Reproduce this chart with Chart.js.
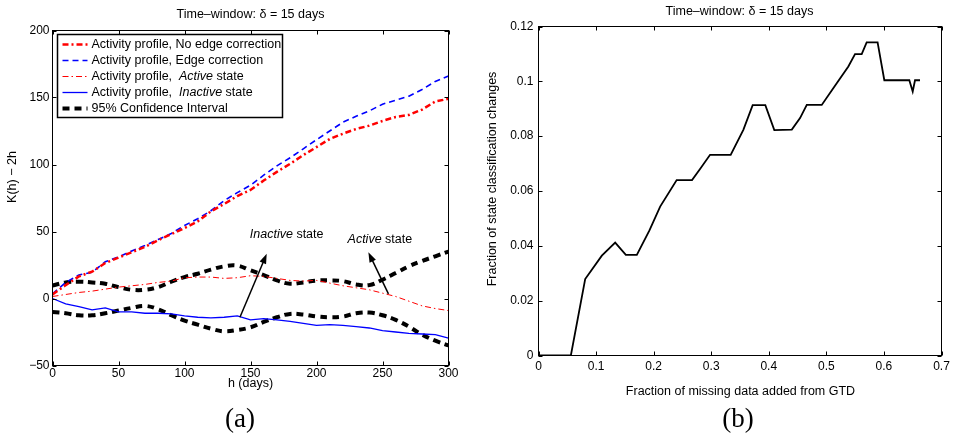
<!DOCTYPE html>
<html>
<head>
<meta charset="utf-8">
<script src="https://cdn.jsdelivr.net/npm/chart.js@4.4.0/dist/chart.umd.min.js"></script>
<style>
  html, body { margin: 0; padding: 0; background: #fff; }
  #wrap { position: relative; width: 956px; height: 440px; }
  canvas { position: absolute; top: 0; }
  #graficoA { left: 0; }
  #graficoB { left: 478px; }
</style>
</head>
<body>
<div id="wrap">
  <canvas id="graficoA" width="478" height="440"></canvas>
  <canvas id="graficoB" width="478" height="440"></canvas>
</div>
<script>
// (a) K(h) - 2h, a cada 10 dias
const dias = [0, 10, 20, 30, 40, 50, 60, 70, 80, 90, 100, 110, 120, 130, 140, 150,
    160, 170, 180, 190, 200, 210, 220, 230, 240, 250, 260, 270, 280, 290, 300];
const semCorrecao = [3, 10, 16.5, 20, 26.5, 30.5, 34.5, 38.5, 43.5, 48, 52.5, 57.5, 65, 70.5, 76.5, 81,
    88, 94.5, 100.5, 107, 113, 119, 123, 126.5, 129, 132.5, 135.5, 137, 141, 147, 149];
const comCorrecao = [3.5, 12, 17.5, 19.6, 27.5, 31, 35.5, 39.5, 44, 48.5, 54.5, 59.5, 65.5, 73, 79, 84.5,
    92, 99, 105, 111.7, 118.5, 125, 131.5, 136, 140, 145, 148, 151, 156, 162, 166];
const estadoAtivo = [1.5, 3, 4.5, 5.5, 7, 8.5, 9.5, 10.5, 12, 13, 15.5, 16, 16, 15, 15.5, 17,
    16.5, 15, 13.5, 13, 13.5, 11.5, 9.5, 8, 6.5, 4, 1.5, -2, -5.5, -7.5, -9];
const estadoInativo = [0, -4, -6, -8.5, -7, -10, -10, -11, -11, -11.5, -13, -14, -14.5, -14, -13, -16,
    -15, -16, -17, -18.5, -20, -19.5, -20, -21, -22, -24, -25, -26, -26.5, -27, -29.5];
const icSuperior = [9.7, 12, 12.5, 12, 11, 8.5, 6.5, 6.5, 8.5, 12.5, 16, 18.5, 21.5, 24, 24.5, 21,
    17.5, 13.5, 11, 12, 13.4, 13.5, 13, 10.5, 10, 14, 19, 24, 28, 31.5, 35];
const icInferior = [-10, -11, -12.5, -12.5, -11, -9, -7, -5.5, -8, -12.5, -16.5, -19.5, -22.5, -24.5, -23.5, -21.5,
    -17.5, -14, -11.5, -12, -13.4, -14, -13.5, -11, -10.5, -12.5, -16, -21, -27, -31.5, -35];
const ticksXA = [0, 50, 100, 150, 200, 250, 300];
const ticksYA = [-50, 0, 50, 100, 150, 200];

// (b) fração de mudanças de classificação
const fracaoAdicionada = [0, 0.0562, 0.0811, 0.110, 0.1332, 0.1517, 0.1708, 0.1927, 0.2113, 0.240, 0.2667,
    0.2806, 0.298, 0.3338, 0.3558, 0.372, 0.394, 0.4096, 0.44, 0.4543, 0.466, 0.492, 0.512, 0.5382,
    0.5498, 0.5614, 0.570, 0.589, 0.6007, 0.6441, 0.650, 0.654, 0.6627];
const fracaoMudancas = [0, 0, 0.0279, 0.0364, 0.0412, 0.0367, 0.0367, 0.0456, 0.0543, 0.064, 0.064,
    0.068, 0.0732, 0.0732, 0.0823, 0.0913, 0.0913, 0.0822, 0.0824, 0.0866, 0.0914, 0.0914, 0.0975, 0.1054,
    0.1099, 0.1099, 0.1142, 0.1142, 0.1004, 0.1004, 0.0963, 0.1004, 0.1004];
const ticksXB = [0, 0.1, 0.2, 0.3, 0.4, 0.5, 0.6, 0.7];
const ticksYB = [0, 0.02, 0.04, 0.06, 0.08, 0.1, 0.12];

// textos
const titulo = 'Time\u2013window: \u03b4 = 15 days';
const legendas = [
    [['Activity profile, No edge correction', false]],
    [['Activity profile, Edge correction', false]],
    [['Activity profile,  ', false], ['Active', true], [' state', false]],
    [['Activity profile,  ', false], ['Inactive', true], [' state', false]],
    [['95% Confidence Interval', false]]
];
const anotacoes = [
    { partes: [['Inactive', true], [' state', false]], texto: [177.4, 47.4], cauda: [142, -14], ponta: [162.3, 33.4] },
    { partes: [['Active', true], [' state', false]], texto: [248, 44.2], cauda: [254.5, 3.5], ponta: [239.3, 34.6] }
];

const familia = '"Liberation Sans", Arial, Helvetica, sans-serif';
Chart.defaults.font.family = familia;
Chart.defaults.color = '#000';

function fonte(italico, tamanho) {
    return (italico ? 'italic ' : '') + (tamanho || 12.5) + 'px ' + familia;
}

function pontos(xs, ys) {
    return xs.map((x, i) => ({ x: x, y: ys[i] }));
}

// escreve texto com partes em itálico
function textoMisto(ctx, partes, x, y, alinhar) {
    let largura = 0;
    partes.forEach(p => { ctx.font = fonte(p[1]); largura += ctx.measureText(p[0]).width; });
    let cx = alinhar === 'center' ? x - largura / 2 : x;
    ctx.textAlign = 'left';
    partes.forEach(p => {
        ctx.font = fonte(p[1]);
        ctx.fillText(p[0], cx, y);
        cx += ctx.measureText(p[0]).width;
    });
}

function seta(ctx, x0, y0, x1, y1) {
    const ang = Math.atan2(y1 - y0, x1 - x0);
    const c = Math.cos(ang), s = Math.sin(ang);
    const L = 10, W = 3.5;
    ctx.beginPath();
    ctx.moveTo(x0, y0);
    ctx.lineTo(x1 - L * c * 0.7, y1 - L * s * 0.7);
    ctx.stroke();
    ctx.beginPath();
    ctx.moveTo(x1, y1);
    ctx.lineTo(x1 - L * c + W * s, y1 - L * s - W * c);
    ctx.lineTo(x1 - L * c - W * s, y1 - L * s + W * c);
    ctx.closePath();
    ctx.fill();
}

// caixa e ticks para dentro nos quatro lados
const moldura = {
    id: 'moldura',
    afterDraw(chart) {
        const { ctx, chartArea: a, scales: { x, y } } = chart;
        const t = 4;
        ctx.save();
        ctx.strokeStyle = '#000';
        ctx.lineWidth = 1;
        ctx.strokeRect(a.left, a.top, a.right - a.left, a.bottom - a.top);
        ctx.beginPath();
        x.ticks.forEach(tk => {
            const px = Math.round(x.getPixelForValue(tk.value)) + 0.5;
            ctx.moveTo(px, a.bottom); ctx.lineTo(px, a.bottom - t);
            ctx.moveTo(px, a.top); ctx.lineTo(px, a.top + t);
        });
        y.ticks.forEach(tk => {
            const py = Math.round(y.getPixelForValue(tk.value)) + 0.5;
            ctx.moveTo(a.left, py); ctx.lineTo(a.left + t, py);
            ctx.moveTo(a.right, py); ctx.lineTo(a.right - t, py);
        });
        ctx.stroke();
        ctx.restore();
    }
};

// títulos e rótulos dos eixos
function textos(cfg) {
    return {
        id: 'textos',
        afterDraw(chart) {
            const ctx = chart.ctx;
            ctx.save();
            ctx.fillStyle = '#000';
            ctx.textBaseline = 'middle';
            ctx.textAlign = 'center';
            ctx.font = fonte(false);
            ctx.fillText(titulo, cfg.titulo[0], cfg.titulo[1]);
            ctx.fillText(cfg.rotuloX, cfg.posX[0], cfg.posX[1]);
            ctx.save();
            ctx.translate(cfg.posY[0], cfg.posY[1]);
            ctx.rotate(-Math.PI / 2);
            ctx.fillText(cfg.rotuloY, 0, 0);
            ctx.restore();
            ctx.font = '27px "Liberation Serif", "DejaVu Serif", serif';
            ctx.fillText(cfg.letra, cfg.posLetra[0], cfg.posLetra[1]);
            ctx.restore();
        }
    };
}

// legenda própria (com itálico) e setas do gráfico (a)
const legendaA = {
    id: 'legendaA',
    afterDraw(chart) {
        const { ctx, chartArea: a } = chart;
        const bx = a.left + 5, by = a.top + 4, bw = 225, bh = 83;
        ctx.save();
        ctx.fillStyle = '#fff';
        ctx.fillRect(bx, by, bw, bh);
        ctx.strokeStyle = '#000';
        ctx.lineWidth = 1.5;
        ctx.strokeRect(bx, by, bw, bh);
        legendas.forEach((partes, i) => {
            const ds = chart.data.datasets[i];
            const ly = by + 10 + i * 16;
            ctx.strokeStyle = ds.borderColor;
            ctx.lineWidth = ds.borderWidth;
            ctx.setLineDash(ds.borderDash || []);
            ctx.beginPath();
            ctx.moveTo(bx + 5, ly);
            ctx.lineTo(bx + 30, ly);
            ctx.stroke();
            ctx.setLineDash([]);
            ctx.fillStyle = '#000';
            ctx.textBaseline = 'middle';
            textoMisto(ctx, partes, bx + 34, ly, 'left');
        });
        const { x, y } = chart.scales;
        ctx.strokeStyle = '#000';
        ctx.fillStyle = '#000';
        ctx.lineWidth = 1.5;
        anotacoes.forEach(an => {
            seta(ctx, x.getPixelForValue(an.cauda[0]), y.getPixelForValue(an.cauda[1]),
                x.getPixelForValue(an.ponta[0]), y.getPixelForValue(an.ponta[1]));
            ctx.textBaseline = 'middle';
            textoMisto(ctx, an.partes, x.getPixelForValue(an.texto[0]), y.getPixelForValue(an.texto[1]), 'center');
        });
        ctx.restore();
    }
};

function fixarEixo(tamanho, vertical) {
    return s => {
        if (vertical) s.width = tamanho; else s.height = tamanho;
        s.paddingTop = 0; s.paddingBottom = 0; s.paddingLeft = 0; s.paddingRight = 0;
    };
}

function eixo(min, max, valores, tamanho, vertical, pad, formato) {
    return {
        type: 'linear', min: min, max: max,
        afterBuildTicks: s => { s.ticks = valores.map(v => ({ value: v })); },
        afterFit: fixarEixo(tamanho, vertical),
        grid: { display: false, drawTicks: false },
        border: { display: false },
        ticks: { color: '#000', font: { size: 12 }, padding: pad, maxRotation: 0, autoSkip: false, callback: formato }
    };
}

function serieA(ys, cor, largura, tracejado, tensao) {
    return {
        data: pontos(dias, ys), borderColor: cor, borderWidth: largura, borderDash: tracejado,
        pointRadius: 0, tension: tensao || 0, fill: false, borderCapStyle: 'butt'
    };
}

const menos = v => String(v).replace('-', '\u2212');
const decimal = v => String(+Number(v).toFixed(2));

new Chart(document.getElementById('graficoA').getContext('2d'), {
    type: 'line',
    data: {
        datasets: [
            serieA(semCorrecao, '#ff0000', 2.5, [6, 3, 2, 3]),
            serieA(comCorrecao, '#0000ff', 1.6, [6, 4]),
            serieA(estadoAtivo, '#ff0000', 1, [6, 3, 1.5, 3]),
            serieA(estadoInativo, '#0000ff', 1.3, []),
            serieA(icSuperior, '#000000', 4, [7, 5], 0.4),
            serieA(icInferior, '#000000', 4, [7, 5], 0.4)
        ]
    },
    options: {
        responsive: false,
        devicePixelRatio: 1,
        animation: false,
        layout: { padding: { top: 30.5, right: 29.5, left: 0, bottom: 0 } },
        plugins: { legend: { display: false }, tooltip: { enabled: false } },
        scales: {
            x: eixo(0, 300, ticksXA, 74.5, false, 1, menos),
            y: eixo(-50, 200, ticksYA, 52.5, true, 3, menos)
        }
    },
    plugins: [moldura, legendaA, textos({
        titulo: [250.5, 15], rotuloX: 'h (days)', posX: [250.5, 383.5],
        rotuloY: 'K(h) \u2212 2h', posY: [12.5, 177], letra: '(a)', posLetra: [240, 420]
    })]
});

new Chart(document.getElementById('graficoB').getContext('2d'), {
    type: 'line',
    data: {
        datasets: [{
            data: pontos(fracaoAdicionada, fracaoMudancas),
            borderColor: '#000', borderWidth: 1.8, pointRadius: 0, tension: 0, fill: false
        }]
    },
    options: {
        responsive: false,
        devicePixelRatio: 1,
        animation: false,
        layout: { padding: { top: 26.5, right: 14.5, left: 0, bottom: 0 } },
        plugins: { legend: { display: false }, tooltip: { enabled: false } },
        scales: {
            x: eixo(0, 0.7, ticksXB, 84.5, false, 4, decimal),
            y: eixo(0, 0.12, ticksYB, 60.5, true, 5, decimal)
        }
    },
    plugins: [moldura, textos({
        titulo: [261.5, 11.7], rotuloX: 'Fraction of missing data added from GTD', posX: [262.5, 391.7],
        rotuloY: 'Fraction of state classification changes', posY: [15, 179], letra: '(b)', posLetra: [260, 420]
    })]
});
</script>
</body>
</html>
